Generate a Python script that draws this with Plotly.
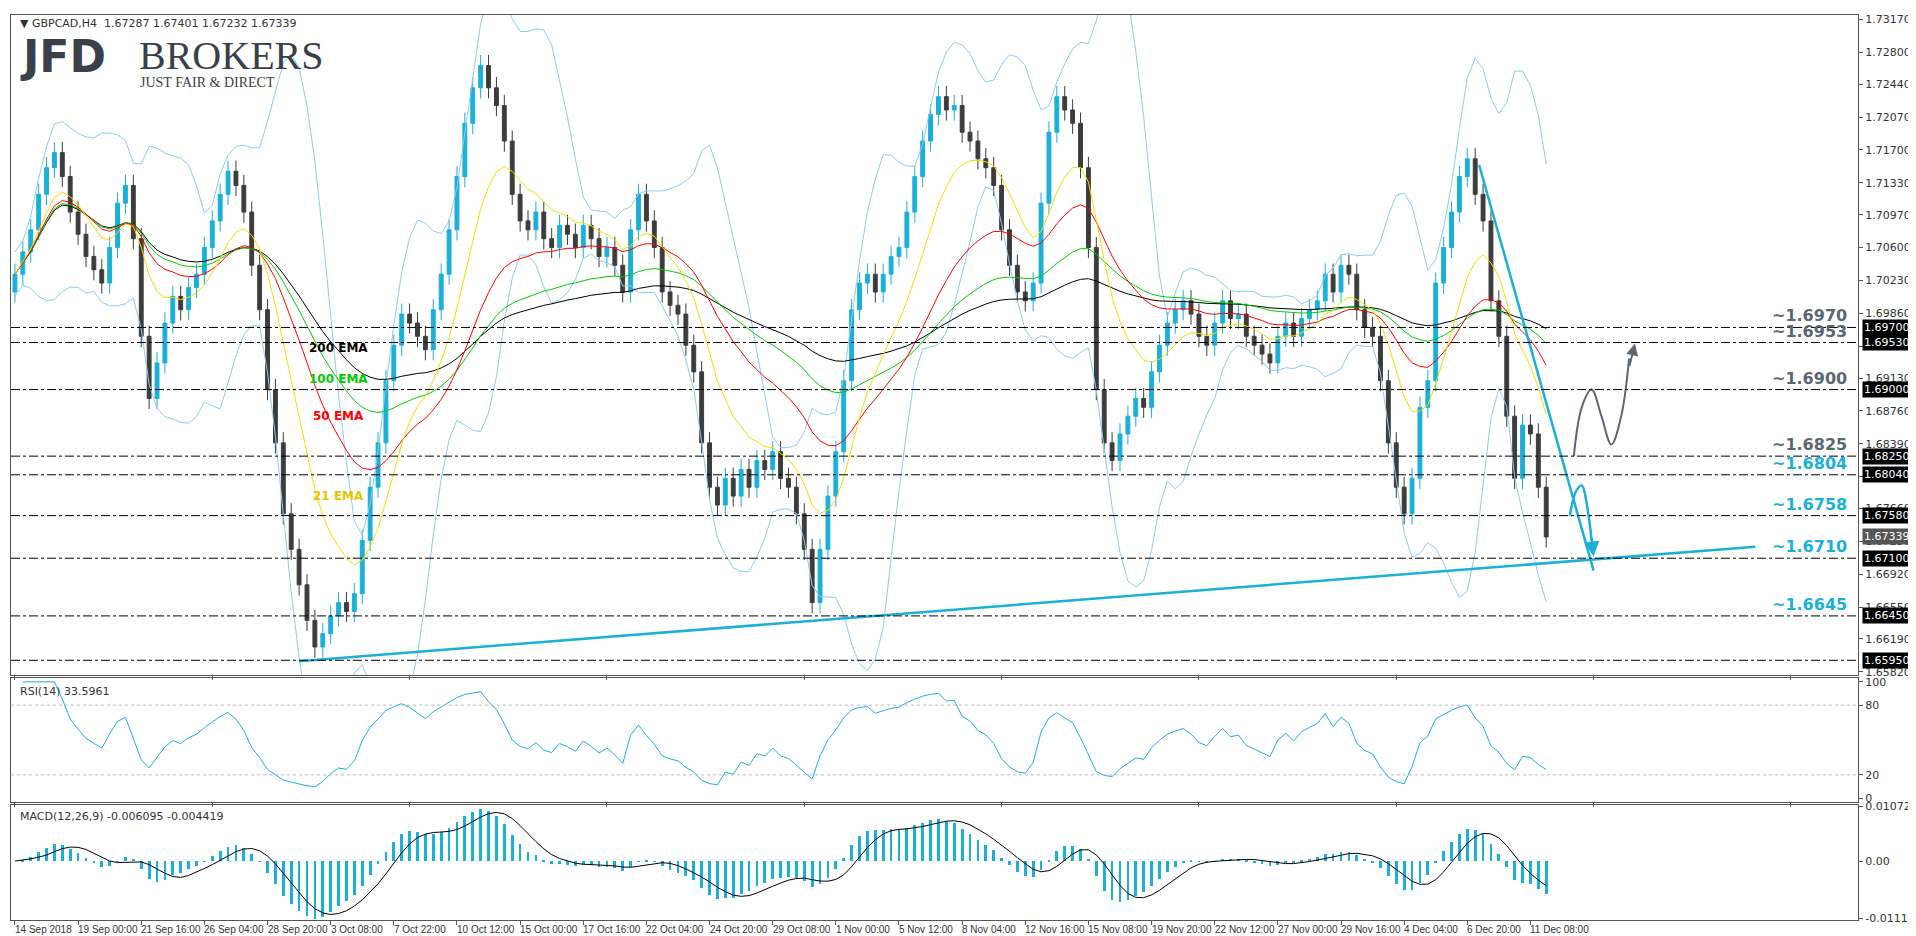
import numpy as np
import pandas as pd
import plotly.graph_objects as go
from plotly.subplots import make_subplots

# GBPCAD closes (one value per 8 hours, drawn at every 2nd H4 slot)
closes = [
    1.7030, 1.7055, 1.7080, 1.7120, 1.7150, 1.7167, 1.7140, 1.7100, 1.7075, 1.7050,
    1.7035, 1.7020, 1.7060, 1.7110, 1.7130, 1.7070, 1.6960, 1.6890, 1.6930, 1.6975,
    1.7005, 1.6990, 1.7015, 1.7030, 1.7060, 1.7090, 1.7120, 1.7146, 1.7130, 1.7100,
    1.7040, 1.6990, 1.6900, 1.6840, 1.6760, 1.6720, 1.6680, 1.6640, 1.6610, 1.6625,
    1.6645, 1.6660, 1.6650, 1.6670, 1.6730, 1.6790, 1.6840, 1.6910, 1.6950, 1.6985,
    1.6975, 1.6960, 1.6945, 1.6990, 1.7030, 1.7080, 1.7140, 1.7200, 1.7240, 1.7265,
    1.7240, 1.7220, 1.7180, 1.7120, 1.7090, 1.7080, 1.7100, 1.7070, 1.7060, 1.7085,
    1.7075, 1.7060, 1.7085, 1.7070, 1.7050, 1.7060, 1.7040, 1.7010, 1.7080, 1.7120,
    1.7090, 1.7060, 1.7010, 1.6995, 1.6985, 1.6950, 1.6920, 1.6840, 1.6790, 1.6770,
    1.6800, 1.6780, 1.6810, 1.6790, 1.6820, 1.6810, 1.6830, 1.6800, 1.6790, 1.6760,
    1.6720, 1.6660, 1.6720, 1.6780, 1.6830, 1.6910, 1.6990, 1.7020, 1.7030, 1.7010,
    1.7030, 1.7050, 1.7060, 1.7100, 1.7140, 1.7180, 1.7210, 1.7230, 1.7215, 1.7220,
    1.7190, 1.7180, 1.7160, 1.7150, 1.7130, 1.7080, 1.7040, 1.7010, 1.7000, 1.7020,
    1.7110, 1.7190, 1.7230, 1.7215, 1.7200, 1.7150, 1.7060, 1.6900, 1.6840, 1.6820,
    1.6850, 1.6870, 1.6890, 1.6880, 1.6920, 1.6950, 1.6975, 1.6990, 1.7000, 1.6985,
    1.6960, 1.6950, 1.6975, 1.7000, 1.6980, 1.6985, 1.6960, 1.6950, 1.6940, 1.6930,
    1.6960, 1.6975, 1.6960, 1.6980, 1.6990, 1.7000, 1.7030, 1.7010, 1.7040, 1.7030,
    1.6990, 1.6970, 1.6960, 1.6910, 1.6840, 1.6790, 1.6760, 1.6800, 1.6880, 1.6910,
    1.7020, 1.7060, 1.7100, 1.7140, 1.7160, 1.7120, 1.7090, 1.7000, 1.6960, 1.6870,
    1.6800, 1.6860, 1.6850, 1.6790, 1.6734,
]
first_open = 1.7010

tick_labels = ["14 Sep 2018", "19 Sep 00:00", "21 Sep 16:00", "26 Sep 04:00", "28 Sep 20:00",
               "3 Oct 08:00", "7 Oct 22:00", "10 Oct 12:00", "15 Oct 00:00", "17 Oct 16:00",
               "22 Oct 04:00", "24 Oct 20:00", "29 Oct 08:00", "1 Nov 00:00", "5 Nov 12:00",
               "8 Nov 04:00", "12 Nov 16:00", "15 Nov 08:00", "19 Nov 20:00", "22 Nov 12:00",
               "27 Nov 00:00", "29 Nov 16:00", "4 Dec 04:00", "6 Dec 20:00", "11 Dec 08:00"]
tick_pos = [16 * i for i in range(len(tick_labels))]

price_ticks = [1.73170, 1.72800, 1.72440, 1.72070, 1.71700, 1.71330, 1.70970, 1.70600,
               1.70230, 1.69860, 1.69490, 1.69130, 1.68760, 1.68390, 1.68020, 1.67660,
               1.67290, 1.66920, 1.66550, 1.66190, 1.65820]

levels = [1.6970, 1.6953, 1.6900, 1.6825, 1.6804, 1.6758, 1.6710, 1.6645, 1.6595]
level_text = ["~1.6970", "~1.6953", "~1.6900", "~1.6825", "~1.6804", "~1.6758", "~1.6710", "~1.6645", None]
level_blue = [False, False, False, False, True, True, True, True, False]

CYAN = "#1ab0d8"
GREY = "#5b6670"

c = pd.Series(closes)
o = pd.Series([first_open] + closes[:-1])
hi = np.maximum(o, c) + 0.0012
lo = np.minimum(o, c) - 0.0012
x = np.arange(len(closes)) * 2

ema = {n: c.ewm(span=n, adjust=True).mean() for n in (10, 25, 50, 100)}
mid = c.rolling(10, min_periods=1).mean()
sd = c.rolling(10, min_periods=2).std(ddof=0).bfill()
bb_up, bb_dn = mid + 2 * sd, mid - 2 * sd

d = c.diff()
up = d.clip(lower=0).ewm(alpha=1 / 7, adjust=False).mean()
dn = (-d.clip(upper=0)).ewm(alpha=1 / 7, adjust=False).mean()
rsi = 100 - 100 / (1 + up / dn.replace(0, 1e-9))
macd = c.ewm(span=6, adjust=False).mean() - c.ewm(span=13, adjust=False).mean()
signal = macd.rolling(5, min_periods=1).mean()

fig = make_subplots(rows=3, cols=1, shared_xaxes=True)

for band in (bb_up, bb_dn):
    fig.add_trace(go.Scatter(x=x, y=band, mode="lines", line=dict(color="#8ccbf0", width=1)), 1, 1)
for n, col in ((100, "black"), (50, "#00cc00"), (25, "red"), (10, "#f0e000")):
    fig.add_trace(go.Scatter(x=x, y=ema[n], mode="lines", line=dict(color=col, width=1)), 1, 1)

fig.add_trace(go.Candlestick(x=x, open=o, high=hi, low=lo, close=c,
                             increasing=dict(line=dict(color=CYAN, width=1), fillcolor=CYAN),
                             decreasing=dict(line=dict(color="#3c3c3c", width=1), fillcolor="#3c3c3c"),
                             whiskerwidth=0), 1, 1)

# trend lines
fig.add_trace(go.Scatter(x=[72, 441], y=[1.6594, 1.6723], mode="lines", line=dict(color=CYAN, width=2.5)), 1, 1)
fig.add_trace(go.Scatter(x=[371, 400], y=[1.7153, 1.6696], mode="lines", line=dict(color=CYAN, width=2.5)), 1, 1)
# scenario paths
fig.add_trace(go.Scatter(x=[395, 397, 399.5, 402, 404.5, 407, 409], y=[1.6825, 1.6880, 1.6900, 1.6870, 1.6838, 1.6870, 1.6935],
                         mode="lines", line=dict(color=GREY, width=2, shape="spline")), 1, 1)
fig.add_trace(go.Scatter(x=[394, 395.5, 397, 398.5, 399.5], y=[1.6758, 1.6785, 1.6792, 1.6765, 1.6730],
                         mode="lines", line=dict(color=CYAN, width=2.5, shape="spline")), 1, 1)
fig.add_annotation(x=410.5, y=1.6952, ax=409, ay=1.6925, xref="x", yref="y", axref="x", ayref="y",
                   showarrow=True, arrowhead=2, arrowsize=1.2, arrowwidth=2, arrowcolor=GREY, text="")
fig.add_annotation(x=400, y=1.6712, ax=399.4, ay=1.6735, xref="x", yref="y", axref="x", ayref="y",
                   showarrow=True, arrowhead=2, arrowsize=1.2, arrowwidth=2.5, arrowcolor=CYAN, text="")

for lv, txt, blue in zip(levels, level_text, level_blue):
    fig.add_shape(type="line", xref="x domain", yref="y", x0=0, x1=1, y0=lv, y1=lv,
                  line=dict(color="black", width=1, dash="dashdot"))
    fig.add_annotation(xref="paper", yref="y", x=1, y=lv, text=f"{lv:.5f}", showarrow=False,
                       xanchor="left", xshift=4, bgcolor="black", font=dict(color="white", size=11, family="DejaVu Sans"))
    if txt:
        fig.add_annotation(xref="x domain", yref="y", x=0.995, y=lv, text=f"<b>{txt}</b>", showarrow=False,
                           xanchor="right", yanchor="bottom", yshift=0,
                           font=dict(color=CYAN if blue else GREY, size=16, family="DejaVu Sans"))
fig.add_annotation(xref="paper", yref="y", x=1, y=c.iloc[-1], text="1.67339", showarrow=False,
                   xanchor="left", xshift=4, bgcolor="#555555", font=dict(color="white", size=11, family="DejaVu Sans"))

for txt, yv, col in (("200 EMA", 1.6947, "black"), ("100 EMA", 1.6912, "#00cc00"),
                     ("50 EMA", 1.6870, "red"), ("21 EMA", 1.6780, "#e8c400")):
    fig.add_annotation(x=82, y=yv, text=f"<b>{txt}</b>", showarrow=False, xref="x", yref="y",
                       font=dict(color=col, size=12, family="DejaVu Sans"))

# RSI
fig.add_trace(go.Scatter(x=x, y=rsi, mode="lines", line=dict(color=CYAN, width=1)), 2, 1)
for lv in (80, 20):
    fig.add_shape(type="line", xref="x2 domain", yref="y2", x0=0, x1=1, y0=lv, y1=lv,
                  line=dict(color="#bbbbbb", width=1, dash="dot"))
# MACD
fig.add_trace(go.Bar(x=x, y=macd, marker=dict(color=CYAN, line=dict(width=0)), width=0.7), 3, 1)
fig.add_trace(go.Scatter(x=x, y=signal, mode="lines", line=dict(color="black", width=1)), 3, 1)

# time labels, left-aligned at their ticks
for tp, tl in zip(tick_pos, tick_labels):
    fig.add_annotation(xref="x3", yref="paper", x=tp, y=0, text=tl, showarrow=False,
                       xanchor="left", yanchor="top", xshift=-2, yshift=-2,
                       font=dict(family="Liberation Sans", size=10, color="#333333"))

font = dict(family="DejaVu Sans", size=11, color="#333333")
fig.add_annotation(xref="paper", yref="paper", x=0.004, y=1.0, xanchor="left", yanchor="top", showarrow=False,
                   text="▼ GBPCAD,H4  1.67287 1.67401 1.67232 1.67339", font=font)
fig.add_annotation(xref="paper", yref="paper", x=0.004, y=0.985, xanchor="left", yanchor="top", showarrow=False,
                   text="<b>JFD</b>", font=dict(family="DejaVu Sans", size=44, color="#3a4048"))
fig.add_annotation(xref="paper", yref="paper", x=0.068, y=0.982, xanchor="left", yanchor="top", showarrow=False,
                   text="BROKERS", font=dict(family="Liberation Serif", size=40, color="#3a4048"))
fig.add_annotation(xref="paper", yref="paper", x=0.069, y=0.936, xanchor="left", yanchor="top", showarrow=False,
                   text="JUST FAIR &amp; DIRECT", font=dict(family="Liberation Serif", size=14, color="#3a4048"))
fig.add_annotation(xref="paper", yref="paper", x=0.004, y=0.262, xanchor="left", yanchor="top", showarrow=False,
                   text="RSI(14) 33.5961", font=font)
fig.add_annotation(xref="paper", yref="paper", x=0.004, y=0.124, xanchor="left", yanchor="top", showarrow=False,
                   text="MACD(12,26,9) -0.006095 -0.004419", font=font)

axis_common = dict(showline=True, mirror=True, linecolor="#555555", linewidth=1, showgrid=False,
                   zeroline=False, ticks="outside", ticklen=4, tickcolor="#555555", tickfont=font)
fig.update_layout(
    width=1916, height=936, showlegend=False, plot_bgcolor="white", paper_bgcolor="white",
    margin=dict(l=2, r=48, t=5, b=24), bargap=0,
    xaxis=dict(domain=[0, 1], range=[-1, 467], rangeslider=dict(visible=False), **axis_common),
    xaxis2=dict(domain=[0, 1], range=[-1, 467], **axis_common),
    xaxis3=dict(domain=[0, 1], range=[-1, 467], tickvals=tick_pos, **axis_common),
    yaxis=dict(domain=[0.2703, 1], side="right", range=[1.6578, 1.7322], tickvals=price_ticks,
               tickformat=".5f", **axis_common),
    yaxis2=dict(domain=[0.1308, 0.2670], side="right", range=[-3, 103], tickvals=[0, 20, 80, 100], **axis_common),
    yaxis3=dict(domain=[0, 0.1275], side="right", range=[-0.0115, 0.011],
                tickvals=[-0.01118, 0, 0.01072], ticktext=["-0.011186", "0.00", "0.01072"], **axis_common),
)
fig.update_xaxes(showticklabels=False)

fig.write_html("out.html")
